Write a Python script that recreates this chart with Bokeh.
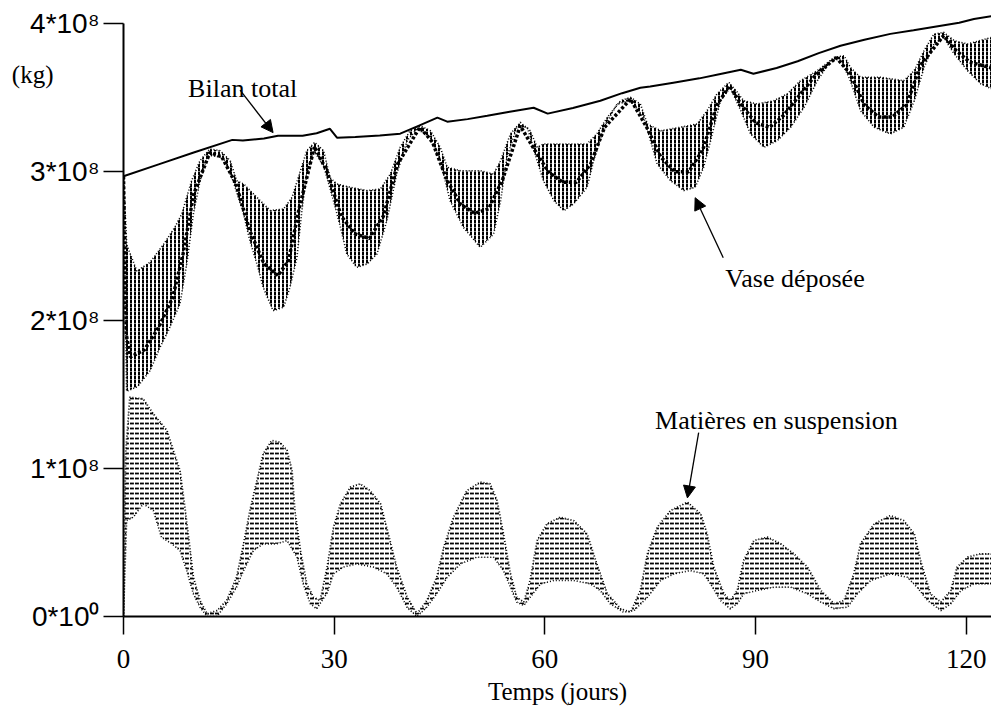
from bokeh.plotting import figure
from bokeh.models import Range1d, FixedTicker, Label, Arrow, NormalHead, LinearAxis
from bokeh.embed import file_html
from bokeh.resources import INLINE

# ---- data (days, 10^8 kg) ----
x_ticks = [0, 30, 60, 90, 120]
y_ticks = [0, 1, 2, 3, 4]
y_tick_labels = ["0*10\u2070", "1*10\u2078", "2*10\u2078", "3*10\u2078", "4*10\u2078"]
unit_label = "(kg)"
unit_label_level = 3.655

bilan_total = [(0, 2.97), (5, 3.05), (10, 3.13), (15.5, 3.215), (17, 3.21), (20, 3.225), (22, 3.243),
               (25.5, 3.243), (27.5, 3.26), (29.4, 3.29), (30.4, 3.23), (33, 3.235), (36.5, 3.245),
               (39.4, 3.257), (42, 3.31), (44.7, 3.365), (46.1, 3.338), (49, 3.355), (51.8, 3.378),
               (55, 3.405), (58.4, 3.432), (60.4, 3.392), (64, 3.43), (67.9, 3.479), (71, 3.53),
               (73.6, 3.567), (75, 3.575), (78.3, 3.601), (82, 3.63), (85, 3.66), (87.9, 3.688),
               (89.7, 3.661), (93, 3.7), (96, 3.745), (99, 3.8), (102.1, 3.85), (105.5, 3.89),
               (109.2, 3.93), (112.5, 3.955), (116.4, 3.985), (119, 4.005), (121.1, 4.03), (123.6, 4.05)]

vase_upper = [(0, 2.97), (0.45, 2.51), (1.9, 2.33), (3.8, 2.39), (5.7, 2.51), (7.3, 2.625), (8.3, 2.715),
              (9.7, 2.94), (10.9, 3.075), (12.3, 3.154), (13.75, 3.142), (15.2, 3.075), (16.1, 2.94),
              (17.1, 2.918), (19.0, 2.827), (20.9, 2.738), (22.8, 2.749), (24.0, 2.827), (24.9, 2.962),
              (26.1, 3.142), (27.2, 3.198), (28.5, 3.142), (29.4, 2.96), (30.4, 2.918), (32.3, 2.895),
              (34.7, 2.873), (36.6, 2.884), (38.0, 2.985), (39.4, 3.165), (40.8, 3.277), (42.25, 3.311),
              (43.7, 3.277), (45.1, 3.165), (46.1, 3.03), (48.0, 3.007), (50.8, 3.007), (52.7, 2.985),
              (53.7, 3.075), (55.1, 3.255), (56.5, 3.333), (57.9, 3.277), (58.9, 3.165), (59.8, 3.187),
              (63.2, 3.187), (66.0, 3.187), (67.4, 3.255), (68.9, 3.367), (70.8, 3.48), (72.2, 3.502),
              (73.6, 3.457), (74.6, 3.322), (76.5, 3.277), (79.3, 3.30), (81.7, 3.322), (83.1, 3.412),
              (84.5, 3.525), (86.2, 3.603), (87.4, 3.536), (88.3, 3.479), (90.2, 3.457), (92.6, 3.479),
              (94.5, 3.525), (96.4, 3.614), (98.8, 3.682), (101.2, 3.771), (102.6, 3.783), (103.5, 3.704),
              (104.95, 3.637), (107.8, 3.637), (111.1, 3.614), (112.6, 3.682), (114.0, 3.817),
              (115.4, 3.929), (116.8, 3.94), (118.3, 3.884), (120.2, 3.862), (123.6, 3.906)]

vase_lower = [(0, 2.97), (0.45, 1.52), (2.0, 1.55), (3.8, 1.66), (5.2, 1.816), (6.4, 1.929), (8.05, 2.109),
              (9.0, 2.378), (9.95, 2.715), (10.9, 2.94), (11.9, 3.097), (12.3, 3.11), (14.2, 3.097),
              (15.6, 2.94), (17.1, 2.715), (18.0, 2.535), (19.0, 2.378), (19.9, 2.22), (21.3, 2.063),
              (22.8, 2.086), (23.7, 2.22), (24.7, 2.423), (25.4, 2.738), (26.1, 2.985), (27.1, 3.142),
              (28.5, 3.04), (29.9, 2.805), (30.9, 2.625), (31.8, 2.446), (33.2, 2.355), (34.7, 2.378),
              (36.1, 2.446), (37.5, 2.67), (38.9, 2.985), (40.4, 3.21), (41.8, 3.289), (43.7, 3.232),
              (45.1, 3.075), (46.5, 2.805), (48.4, 2.625), (50.8, 2.49), (52.7, 2.58), (53.7, 2.805),
              (54.6, 3.097), (56.0, 3.30), (57.5, 3.30), (58.9, 3.075), (59.8, 2.94), (61.3, 2.805),
              (62.7, 2.738), (64.1, 2.783), (66.0, 2.895), (66.95, 3.075), (68.4, 3.30), (70.3, 3.457),
              (72.2, 3.48), (74.1, 3.367), (76.0, 3.052), (77.9, 2.94), (79.8, 2.873), (81.4, 2.895),
              (82.6, 3.03), (83.6, 3.21), (85.0, 3.479), (86.4, 3.569), (87.9, 3.412), (89.3, 3.255),
              (91.2, 3.165), (93.1, 3.21), (95.0, 3.30), (96.9, 3.434), (98.8, 3.614), (100.7, 3.749),
              (102.1, 3.761), (103.5, 3.614), (104.95, 3.412), (106.9, 3.30), (109.2, 3.255),
              (111.1, 3.30), (112.6, 3.479), (114.0, 3.704), (115.4, 3.862), (116.8, 3.906),
              (118.3, 3.794), (120.2, 3.682), (122.1, 3.592), (123.6, 3.56)]

vase_core = [(0, 2.97), (0.4, 1.9), (1, 1.75), (3, 1.8), (5, 1.95), (7, 2.15), (8.5, 2.45), (10, 2.85),
             (12.3, 3.13), (14, 3.1), (16, 2.92), (18, 2.6), (20, 2.38), (22, 2.3), (23.5, 2.4), (25, 2.75),
             (27.2, 3.17), (29, 3.0), (31, 2.7), (33, 2.58), (35, 2.55), (37, 2.7), (39, 3.05), (42.2, 3.3),
             (44, 3.2), (46, 2.95), (48, 2.78), (50, 2.72), (52, 2.75), (54, 2.95), (56.5, 3.31),
             (58.5, 3.15), (60.5, 3.0), (62.5, 2.93), (64.5, 2.93), (66.5, 3.05), (68.5, 3.3), (72.2, 3.49),
             (74.5, 3.3), (76.5, 3.1), (78.5, 3.0), (80.5, 3.0), (82.5, 3.15), (84.5, 3.45), (86.3, 3.58),
             (88, 3.45), (90, 3.33), (92, 3.3), (94, 3.38), (96, 3.5), (98.5, 3.65), (101.5, 3.77),
             (103.5, 3.66), (105.5, 3.45), (107.5, 3.37), (109.5, 3.37), (111.5, 3.45), (113.5, 3.72),
             (116.8, 3.92), (118.5, 3.82), (120.5, 3.74), (123.6, 3.7)]

mes_upper = [(0, 0.0), (0.3, 1.1), (0.9, 1.479), (2.8, 1.468), (4.25, 1.367), (6.2, 1.254), (7.1, 1.119),
             (8.05, 0.984), (8.8, 0.715), (9.5, 0.445), (9.95, 0.265), (10.9, 0.108), (11.9, 0.018),
             (13.3, 0.04), (14.7, 0.108), (16.1, 0.265), (17.1, 0.49), (18.0, 0.715), (19.0, 0.917),
             (19.9, 1.097), (21.1, 1.187), (22.3, 1.175), (23.3, 1.119), (24.0, 0.984), (24.4, 0.715),
             (25.2, 0.445), (26.1, 0.22), (27.05, 0.13), (28.0, 0.108), (29.0, 0.333), (29.9, 0.602),
             (30.9, 0.76), (32.3, 0.872), (33.7, 0.895), (35.1, 0.85), (36.6, 0.76), (37.7, 0.558),
             (38.9, 0.333), (40.4, 0.13), (41.8, 0.018), (43.2, 0.108), (44.6, 0.265), (45.6, 0.467),
             (47.0, 0.67), (48.9, 0.85), (50.8, 0.906), (52.2, 0.895), (53.2, 0.782), (54.1, 0.558),
             (55.1, 0.288), (56.0, 0.13), (57.0, 0.097), (57.9, 0.243), (58.9, 0.512), (60.3, 0.625),
             (62.2, 0.67), (64.1, 0.647), (66.0, 0.558), (67.4, 0.355), (68.9, 0.153), (70.8, 0.052),
             (72.2, 0.029), (73.6, 0.175), (74.6, 0.423), (76.0, 0.602), (77.9, 0.715), (80.3, 0.771),
             (82.2, 0.692), (83.1, 0.558), (84.05, 0.333), (85.5, 0.153), (86.4, 0.108), (87.4, 0.175),
             (88.3, 0.378), (89.75, 0.512), (91.7, 0.535), (93.6, 0.49), (95.45, 0.423), (97.4, 0.333),
             (99.3, 0.175), (101.2, 0.086), (102.6, 0.108), (104.0, 0.288), (104.95, 0.49), (106.9, 0.625),
             (109.2, 0.681), (111.1, 0.647), (112.6, 0.558), (113.5, 0.378), (114.9, 0.153), (116.4, 0.097),
             (117.8, 0.175), (118.7, 0.333), (120.2, 0.40), (122.1, 0.423), (123.6, 0.423)]

mes_lower = [(0, 0.0), (0.45, 0.647), (1.4, 0.67), (2.8, 0.76), (4.25, 0.715), (5.4, 0.535), (6.9, 0.49),
             (8.05, 0.445), (9.0, 0.31), (9.95, 0.153), (10.9, 0.063), (11.9, 0.0), (13.3, 0.0),
             (14.7, 0.086), (16.1, 0.198), (17.1, 0.31), (18.5, 0.445), (19.9, 0.49), (21.8, 0.49),
             (23.3, 0.512), (24.7, 0.40), (25.6, 0.22), (26.6, 0.086), (27.5, 0.052), (29.0, 0.16),
             (29.9, 0.288), (31.3, 0.333), (33.2, 0.355), (35.6, 0.333), (37.5, 0.288), (38.9, 0.198),
             (40.4, 0.06), (41.8, 0.0), (43.2, 0.063), (44.6, 0.153), (46.1, 0.265), (48.0, 0.355),
             (50.3, 0.40), (52.7, 0.40), (54.1, 0.31), (55.1, 0.198), (56.0, 0.097), (57.0, 0.074),
             (57.9, 0.13), (59.4, 0.22), (61.3, 0.243), (64.1, 0.243), (66.5, 0.22), (67.9, 0.175),
             (69.3, 0.086), (71.2, 0.029), (72.7, 0.04), (74.6, 0.13), (76.5, 0.243), (78.4, 0.288),
             (80.7, 0.31), (82.6, 0.288), (83.6, 0.22), (85.0, 0.108), (86.4, 0.052), (87.4, 0.086),
             (88.3, 0.153), (90.2, 0.175), (92.6, 0.198), (95.0, 0.198), (97.4, 0.153), (99.3, 0.097),
             (101.2, 0.052), (103.1, 0.063), (104.5, 0.153), (106.4, 0.243), (109.2, 0.288),
             (111.6, 0.265), (113.0, 0.198), (114.5, 0.108), (116.4, 0.04), (117.8, 0.086),
             (119.25, 0.175), (121.1, 0.22), (123.6, 0.22)]

UNIT = 1e8  # values above are in units of 10^8 kg


def xs(series):
    return [d for d, _ in series]


def ys(series):
    return [v * UNIT for _, v in series]


SERIF = "Liberation Serif"
SANS = "Liberation Sans"

p = figure(width=991, height=716, output_backend="svg", toolbar_location=None,
           x_range=Range1d(0, 123.6), y_range=Range1d(0, 4.0877e8),
           min_border_left=123, min_border_right=0, min_border_top=10, min_border_bottom=100)
p.outline_line_color = None
p.grid.visible = False
p.background_fill_color = "white"
p.border_fill_color = "white"

# Suspended matter band
p.patch(xs(mes_upper) + xs(mes_lower)[::-1], ys(mes_upper) + ys(mes_lower)[::-1],
        fill_alpha=0, line_color=None,
        hatch_pattern="horizontal_dash", hatch_color="black", hatch_scale=5,
        hatch_weight=1.8, hatch_alpha=1.0)
p.line(xs(mes_upper), ys(mes_upper), line_color="black", line_width=1.8, line_dash="1 2")
p.line(xs(mes_lower), ys(mes_lower), line_color="black", line_width=1.6, line_dash="1 2")

# Deposited mud band
p.patch(xs(vase_upper) + xs(vase_lower)[::-1], ys(vase_upper) + ys(vase_lower)[::-1],
        fill_alpha=0, line_color=None,
        hatch_pattern="vertical_dash", hatch_color="black", hatch_scale=4,
        hatch_weight=2.0, hatch_alpha=1.0)
p.line(xs(vase_upper), ys(vase_upper), line_color="black", line_width=1.6, line_dash="1 2")
p.line(xs(vase_lower), ys(vase_lower), line_color="black", line_width=1.6, line_dash="1 2")
p.line(xs(vase_core), ys(vase_core), line_color="black", line_width=3.5, line_dash="3 2")

# Total balance
p.line(xs(bilan_total), ys(bilan_total), line_color="black", line_width=2)

# Axes
p.xaxis.ticker = FixedTicker(ticks=x_ticks)
p.yaxis.ticker = FixedTicker(ticks=[t * UNIT for t in y_ticks])
p.yaxis.major_label_overrides = {int(t * UNIT): lab for t, lab in zip(y_ticks, y_tick_labels)}
p.yaxis.bounds = (0, 4 * UNIT)
for ax in (p.xaxis[0], p.yaxis[0]):
    ax.axis_line_width = 2
    ax.axis_line_color = "black"
    ax.major_tick_line_width = 1.5
    ax.major_tick_line_color = "black"
    ax.major_tick_in = 0
    ax.minor_tick_line_color = None
    ax.major_label_text_color = "black"
p.yaxis.major_tick_out = 20
p.yaxis.major_label_standoff = 4
p.yaxis.major_label_text_font = SANS
p.yaxis.major_label_text_font_size = "28px"
p.xaxis.major_tick_out = 18
p.xaxis.major_label_standoff = 15
p.xaxis.major_label_text_font = SERIF
p.xaxis.major_label_text_font_size = "27px"
p.xaxis.axis_label = "Temps (jours)"
p.xaxis.axis_label_text_font = SERIF
p.xaxis.axis_label_text_font_size = "25px"
p.xaxis.axis_label_text_font_style = "normal"
p.xaxis.axis_label_text_color = "black"
p.xaxis.axis_label_standoff = 7

# Unit "(kg)" shown as a label-only second axis on the left (outside the frame)
unit_axis = LinearAxis(ticker=FixedTicker(ticks=[unit_label_level * UNIT]),
                       major_label_overrides={int(round(unit_label_level * UNIT)): unit_label},
                       axis_line_color=None, major_tick_line_color=None, minor_tick_line_color=None,
                       major_tick_out=0, major_tick_in=0, major_label_standoff=-26,
                       major_label_text_font=SERIF, major_label_text_font_size="25px",
                       major_label_text_color="black")
p.add_layout(unit_axis, "left")

# Annotations
p.add_layout(Label(x=9.2, y=3.56 * UNIT, text="Bilan total", text_font=SERIF, text_color="black",
                   text_font_size="26px", text_baseline="alphabetic"))
p.add_layout(Label(x=85.7, y=2.28 * UNIT, text="Vase déposée", text_font=SERIF, text_color="black",
                   text_font_size="26px", text_baseline="alphabetic"))
p.add_layout(Label(x=75.7, y=1.32 * UNIT, text="Matières en suspension", text_font=SERIF,
                   text_color="black", text_font_size="26px", text_baseline="alphabetic"))

for (x0, y0, x1, y1) in [(16.6, 3.55, 21.3, 3.264), (85.4, 2.42, 81.4, 2.825), (81.9, 1.24, 80.3, 0.80)]:
    p.add_layout(Arrow(end=NormalHead(size=12, fill_color="black", line_color="black", line_width=1),
                       x_start=x0, y_start=y0 * UNIT, x_end=x1, y_end=y1 * UNIT,
                       line_color="black", line_width=1.3))

open("out.html", "w").write(file_html(p, INLINE))
